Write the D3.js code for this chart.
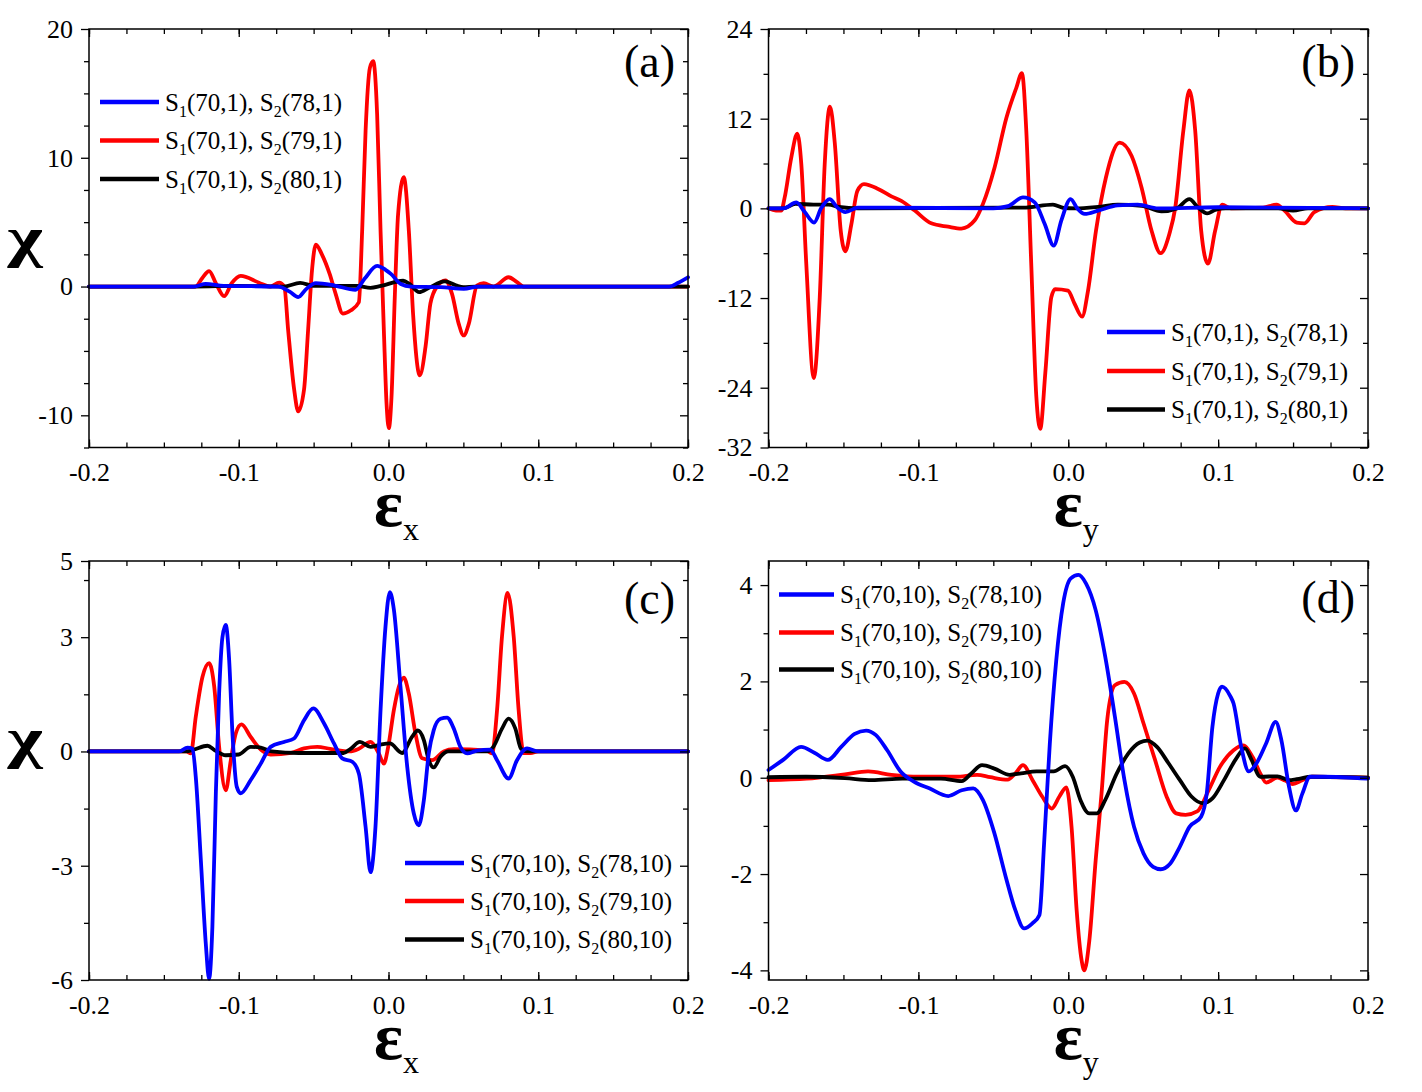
<!DOCTYPE html>
<html>
<head>
<meta charset="utf-8">
<script src="https://cdn.jsdelivr.net/npm/d3@7/dist/d3.min.js"></script>
<style>
  body { margin: 0; background: #fff; }
  svg { display: block; }
</style>
</head>
<body>
<div class="chart"></div>
<script>
const WIDTH = 1422;
const HEIGHT = 1092;

// ---- data: [epsilon, chi] ----
var aBlue = [[-0.2,0],[-0.13,0],[-0.122,0.2],[-0.11,0.05],[-0.0735,0],[-0.066,-0.4],[-0.0603,-0.82],[-0.055,-0.2],[-0.0485,0.26],[-0.036,0.08],[-0.0221,-0.26],[-0.016,0.6],[-0.0076,1.6],[-0.002,1.3],[0.0016,0.98],[0.0082,0.2],[0.015,0],[0.035,-0.05],[0.0503,-0.18],[0.06,0],[0.1875,0],[0.1935,0.3],[0.2,0.72]];
var aRed = [[-0.2,0],[-0.13,0],[-0.1289,0],[-0.1243,0.67],[-0.1198,1.2],[-0.1153,0.26],[-0.1098,-0.75],[-0.1047,0.26],[-0.0987,0.83],[-0.0865,0.3],[-0.079,0],[-0.073,0.3],[-0.0696,0],[-0.067,-3.4],[-0.063,-8.0],[-0.0603,-9.7],[-0.0564,-8.0],[-0.0537,-3.4],[-0.0511,1.24],[-0.0485,3.26],[-0.0445,2.5],[-0.0393,0.98],[-0.0353,-0.57],[-0.0305,-2.1],[-0.0253,-1.86],[-0.0198,-1.22],[-0.0176,4.3],[-0.0153,12.1],[-0.0124,17.0],[-0.0102,17.5],[-0.0076,13.4],[-0.0053,4.3],[-0.0031,-3.4],[-0.0013,-9.1],[0.0002,-11.0],[0.002,-8.6],[0.0042,-0.8],[0.0064,5.6],[0.0102,8.5],[0.0136,4.3],[0.0164,-2.1],[0.0209,-6.9],[0.0247,-4.7],[0.028,-1.3],[0.0324,0],[0.038,0.47],[0.0424,-0.57],[0.0469,-2.9],[0.0502,-3.8],[0.0536,-2.9],[0.0591,0.08],[0.0636,0.26],[0.0702,0],[0.0802,0.72],[0.0858,0.34],[0.0902,0],[0.2,0]];
var aBlack = [[-0.2,0],[-0.13,0],[-0.1,0.05],[-0.07,0],[-0.059,0.28],[-0.05,0.05],[-0.021,0.05],[-0.012,-0.1],[-0.005,0.05],[0.0098,0.45],[0.014,0.2],[0.0205,-0.44],[0.027,-0.1],[0.0376,0.4],[0.045,0.1],[0.05,-0.05],[0.058,0],[0.2,0]];

var bBlue = [[-0.2,0],[-0.19,0],[-0.1814,0.8],[-0.1758,-0.5],[-0.1696,-1.9],[-0.1649,0],[-0.1592,1.24],[-0.154,0.1],[-0.1487,-0.5],[-0.1404,0.1],[-0.12,0.1],[-0.05,0],[-0.0402,0.3],[-0.0302,1.46],[-0.0224,0.8],[-0.0157,-2.1],[-0.0097,-5.0],[-0.0046,-1.6],[0.0016,1.24],[0.006,0],[0.011,-0.75],[0.02,-0.3],[0.033,0.4],[0.0463,0.5],[0.06,0],[0.1,0.15],[0.2,0]];
var bRed = [[-0.2,0],[-0.195,-0.3],[-0.1915,-0.3],[-0.1892,1.46],[-0.1848,6.8],[-0.1808,10.0],[-0.1781,5.9],[-0.1748,-7.4],[-0.1698,-22.7],[-0.1658,-11.9],[-0.1625,5.9],[-0.159,13.6],[-0.1558,8.8],[-0.1518,-3.0],[-0.1487,-5.75],[-0.1447,-2.1],[-0.1407,2.35],[-0.1363,3.24],[-0.1269,2.6],[-0.118,1.6],[-0.1114,1.0],[-0.1024,-0.3],[-0.0914,-2.0],[-0.0802,-2.45],[-0.0713,-2.7],[-0.0624,-1.6],[-0.0569,0.6],[-0.0491,5.5],[-0.0413,12.1],[-0.0347,16.1],[-0.0309,18.1],[-0.028,10.4],[-0.0247,-7.4],[-0.0213,-25.2],[-0.0187,-29.5],[-0.0153,-22.0],[-0.0113,-11.9],[-0.0087,-10.8],[-0.0002,-11.0],[0.0043,-12.8],[0.0092,-14.5],[0.0132,-11.0],[0.0185,-3.0],[0.0251,4.1],[0.0343,8.8],[0.0423,7.0],[0.0489,2.8],[0.0556,-3.0],[0.0616,-6.0],[0.0675,-3.4],[0.0714,0.1],[0.0768,10.4],[0.0808,15.8],[0.0847,10.4],[0.0887,-3.0],[0.0932,-7.4],[0.098,-3.0],[0.1027,0.48],[0.1086,0],[0.13,0.1],[0.139,0.5],[0.1443,-0.3],[0.1524,-1.9],[0.1576,-2.0],[0.1642,-0.5],[0.1762,0.2],[0.185,0],[0.2,0]];
var bBlack = [[-0.2,0],[-0.19,0],[-0.182,0.6],[-0.17,0.5],[-0.16,0.5],[-0.153,0.2],[-0.14,0],[-0.04,0.1],[-0.03,0.1],[-0.0102,0.5],[-0.003,0.05],[0.005,0],[0.02,0.2],[0.033,0.5],[0.049,0.35],[0.0622,-0.4],[0.0725,0],[0.0808,1.24],[0.0867,0.1],[0.0927,-0.67],[0.098,-0.2],[0.105,0],[0.14,0],[0.15,-0.3],[0.16,0],[0.2,0]];

var cBlue = [[-0.2,0],[-0.14,0],[-0.1342,0.1],[-0.1309,0.07],[-0.1287,-0.67],[-0.1253,-2.86],[-0.122,-5.05],[-0.1198,-5.97],[-0.1176,-4.6],[-0.1153,-1.1],[-0.1131,1.53],[-0.1109,3.0],[-0.1087,3.32],[-0.1064,2.4],[-0.1042,0.47],[-0.1013,-0.93],[-0.0987,-1.1],[-0.092,-0.75],[-0.0853,-0.32],[-0.0787,0.12],[-0.0698,0.25],[-0.0631,0.34],[-0.0564,0.82],[-0.0502,1.13],[-0.0431,0.74],[-0.0364,0.21],[-0.0309,-0.18],[-0.0242,-0.27],[-0.0198,-0.58],[-0.0153,-1.98],[-0.012,-3.17],[-0.0087,-1.98],[-0.0053,1.09],[-0.002,3.28],[0.0009,4.18],[0.0036,3.72],[0.008,1.7],[0.0125,-0.4],[0.0169,-1.63],[0.0202,-1.94],[0.0236,-1.28],[0.0269,-0.05],[0.0302,0.56],[0.0347,0.86],[0.0391,0.89],[0.0436,0.6],[0.048,0.12],[0.0525,-0.05],[0.059,0.02],[0.068,0.05],[0.0725,-0.23],[0.0802,-0.71],[0.0858,-0.23],[0.0925,0.08],[0.1,0],[0.2,0]];
var cRed = [[-0.2,0],[-0.135,0],[-0.132,-0.05],[-0.1287,0.91],[-0.1242,1.96],[-0.1198,2.32],[-0.1164,1.71],[-0.1131,0.12],[-0.1087,-1.02],[-0.1053,-0.23],[-0.102,0.47],[-0.0982,0.71],[-0.092,0.38],[-0.0853,0.05],[-0.0787,-0.08],[-0.065,-0.04],[-0.0564,0.08],[-0.0476,0.12],[-0.039,0.07],[-0.026,0],[-0.0198,0.07],[-0.012,0.25],[-0.0065,-0.05],[-0.0031,-0.32],[-0.0002,0.12],[0.0036,1.09],[0.0069,1.7],[0.0102,1.94],[0.0135,1.53],[0.018,0.47],[0.0225,-0.18],[0.0291,-0.23],[0.0369,0],[0.0436,0.06],[0.065,0.03],[0.0691,-0.05],[0.0725,1.09],[0.0758,3.02],[0.0796,4.16],[0.0836,3.02],[0.0869,1.09],[0.0902,-0.04],[0.095,-0.04],[0.1,0],[0.2,0]];
var cBlack = [[-0.2,0],[-0.135,0],[-0.13,0.05],[-0.1209,0.15],[-0.116,0.03],[-0.1087,-0.1],[-0.1,-0.08],[-0.092,0.12],[-0.0853,0.1],[-0.078,0],[-0.06,-0.04],[-0.03,-0.04],[-0.0253,0.07],[-0.0191,0.25],[-0.012,0.12],[-0.0053,0.18],[0.0009,0.21],[0.0091,-0.04],[0.0158,0.39],[0.0196,0.55],[0.0236,0.3],[0.0269,-0.23],[0.0302,-0.42],[0.0347,-0.14],[0.04,0],[0.066,0],[0.07,0.12],[0.0758,0.6],[0.0802,0.86],[0.0847,0.6],[0.0885,0.07],[0.093,0],[0.2,0]];

var dBlue = [[-0.2,0.16],[-0.1898,0.38],[-0.1783,0.64],[-0.1694,0.52],[-0.1604,0.37],[-0.1515,0.64],[-0.1425,0.91],[-0.1349,0.98],[-0.1285,0.89],[-0.1208,0.57],[-0.1119,0.13],[-0.103,-0.08],[-0.0927,-0.22],[-0.08,-0.38],[-0.0711,-0.26],[-0.0634,-0.22],[-0.057,-0.46],[-0.0493,-1.15],[-0.0417,-2.06],[-0.0353,-2.75],[-0.0294,-3.13],[-0.0238,-3.02],[-0.0192,-2.85],[-0.0161,-1.36],[-0.0123,0.71],[-0.008,2.44],[-0.0034,3.62],[0.0017,4.14],[0.0068,4.21],[0.0119,4.03],[0.0183,3.48],[0.0247,2.51],[0.0311,1.27],[0.0375,-0.05],[0.0439,-1.02],[0.0502,-1.57],[0.0566,-1.85],[0.0617,-1.9],[0.0681,-1.78],[0.0745,-1.43],[0.0809,-1.02],[0.0886,-0.81],[0.0924,-0.33],[0.0962,1.06],[0.1,1.75],[0.1026,1.89],[0.108,1.7],[0.1103,1.54],[0.1154,0.64],[0.1205,0.13],[0.1256,0.3],[0.132,0.71],[0.1384,1.16],[0.1422,0.78],[0.1473,-0.19],[0.1519,-0.68],[0.1562,-0.33],[0.1613,0.02],[0.1703,0.02],[0.2,-0.02]];
var dRed = [[-0.2,-0.05],[-0.1745,-0.02],[-0.149,0.07],[-0.1336,0.13],[-0.118,0.06],[-0.1,0.02],[-0.075,0.02],[-0.0608,0.06],[-0.052,0.01],[-0.0404,-0.04],[-0.0353,0.09],[-0.0302,0.26],[-0.0238,-0.05],[-0.0174,-0.39],[-0.011,-0.64],[-0.0059,-0.39],[-0.0013,-0.2],[0.0022,-1.02],[0.0056,-2.75],[0.0089,-3.79],[0.0107,-4.0],[0.014,-3.4],[0.0183,-1.71],[0.0222,-0.33],[0.026,1.2],[0.0311,1.92],[0.0375,1.99],[0.0439,1.75],[0.0502,1.13],[0.0579,0.37],[0.0656,-0.39],[0.072,-0.74],[0.0783,-0.77],[0.086,-0.7],[0.0937,-0.26],[0.1013,0.23],[0.1103,0.57],[0.1167,0.67],[0.123,0.43],[0.1281,0.09],[0.132,-0.1],[0.1396,0],[0.1447,-0.06],[0.1498,-0.13],[0.1562,-0.05],[0.1626,0.02],[0.2,0]];
var dBlack = [[-0.2,0.01],[-0.175,0.02],[-0.149,-0.01],[-0.131,-0.05],[-0.1106,-0.02],[-0.085,-0.02],[-0.0711,-0.07],[-0.0647,0.09],[-0.0575,0.26],[-0.0493,0.19],[-0.0391,0.06],[-0.0315,0.09],[-0.0212,0.13],[-0.0097,0.13],[-0.0021,0.24],[0.003,0.02],[0.0081,-0.46],[0.014,-0.74],[0.0191,-0.74],[0.0247,-0.46],[0.0324,0.09],[0.04,0.5],[0.0477,0.73],[0.0528,0.77],[0.0592,0.64],[0.0669,0.3],[0.0745,-0.05],[0.0822,-0.39],[0.0898,-0.53],[0.0962,-0.43],[0.1039,-0.05],[0.1115,0.37],[0.1179,0.61],[0.1223,0.37],[0.1281,0.02],[0.1396,0.03],[0.1473,-0.05],[0.1524,-0.03],[0.1626,0.02],[0.2,0]];

// ---- ticks and labels ----
var xTicks = [-0.2, -0.1, 0, 0.1, 0.2];
var xMinorTicks = d3.range(-8, 9).map(function (i) { return i * 0.025; });
var aYTicks = [20, 10, 0, -10];
var aYMinor = [17.5, 15, 12.5, 7.5, 5, 2.5, -2.5, -5, -7.5, -12.5];
var bYTicks = [24, 12, 0, -12, -24, -32];
var bYMinor = [18, 6, -6, -18, -30];
var cYTicks = [5, 3, 0, -3, -6];
var cYMinor = [4.5, 1.5, -1.5, -4.5];
var dYTicks = [4, 2, 0, -2, -4];
var dYMinor = [3, 1, -1, -3];

var legendTop = [['70,1', '78,1'], ['70,1', '79,1'], ['70,1', '80,1']];
var legendBottom = [['70,10', '78,10'], ['70,10', '79,10'], ['70,10', '80,10']];
var legendColors = ['#0000ff', '#ff0000', '#000000'];

const FONT = '"Liberation Serif", "Times New Roman", serif';

var panels = [
    { tag: '(a)', left: 89, top: 29, right: 688, bottom: 447.5, yDomain: [-12.5, 20],
      yTicks: aYTicks, yMinor: aYMinor, series: [aRed, aBlack, aBlue], legend: legendTop,
      leg: { x1: 100, x2: 159, tx: 165, ty: [102, 140.5, 179] }, sub: 'x', chiY: 256, tagY: 77 },
    { tag: '(b)', left: 768.5, top: 29, right: 1368, bottom: 447.5, yDomain: [-32, 24],
      yTicks: bYTicks, yMinor: bYMinor, series: [bRed, bBlack, bBlue], legend: legendTop,
      leg: { x1: 1107, x2: 1165, tx: 1171, ty: [332, 371, 409.5] }, sub: 'y', chiY: null, tagY: 77 },
    { tag: '(c)', left: 89, top: 561, right: 688, bottom: 980, yDomain: [-6, 5],
      yTicks: cYTicks, yMinor: cYMinor, series: [cRed, cBlack, cBlue], legend: legendBottom,
      leg: { x1: 405, x2: 464, tx: 470, ty: [863, 901, 939.5] }, sub: 'x', chiY: 757, tagY: 614 },
    { tag: '(d)', left: 768.5, top: 561, right: 1368, bottom: 980, yDomain: [-4.2, 4.5],
      yTicks: dYTicks, yMinor: dYMinor, series: [dRed, dBlack, dBlue], legend: legendBottom,
      leg: { x1: 779, x2: 834, tx: 840, ty: [594.5, 632.5, 669.5] }, sub: 'y', chiY: null, tagY: 613 }
];
var seriesColors = ['#ff0000', '#000000', '#0000ff'];

var svg = d3.select('.chart').append('svg')
    .attr('width', WIDTH)
    .attr('height', HEIGHT)
    .style('font-family', FONT);

// strip the d3 defaults; labelled axes keep their text in the serif face
function styleAxis(g, labelled) {
    g.select('.domain').remove();
    g.selectAll('line').attr('stroke', '#000').attr('stroke-width', 1.3);
    if (labelled) {
        g.selectAll('text')
            .style('font-family', FONT)
            .style('font-size', '26px')
            .attr('fill', '#000');
    } else {
        g.selectAll('text').remove();
    }
}

function tickAxis(g, axis, transform, labelled) {
    g.append('g').attr('transform', transform).call(axis).call(styleAxis, labelled);
}

function drawAxes(g, p, x, y) {
    var fmtY = function (d) { return String(d); };
    var fmtX = function (d) { return d.toFixed(1); };
    var atLeft = 'translate(' + p.left + ',0)';
    var atRight = 'translate(' + p.right + ',0)';
    var atBottom = 'translate(0,' + p.bottom + ')';
    var atTop = 'translate(0,' + p.top + ')';

    // left: outward ticks with labels
    tickAxis(g, d3.axisLeft(y).tickValues(p.yTicks).tickSize(8).tickPadding(8).tickFormat(fmtY), atLeft, true);
    tickAxis(g, d3.axisLeft(y).tickValues(p.yMinor).tickSize(5), atLeft, false);
    // right: inward ticks
    tickAxis(g, d3.axisRight(y).tickValues(p.yTicks).tickSize(-8), atRight, false);
    tickAxis(g, d3.axisRight(y).tickValues(p.yMinor).tickSize(-5), atRight, false);
    // bottom: inward ticks with labels
    tickAxis(g, d3.axisBottom(x).tickValues(xTicks).tickSize(-8).tickPadding(15.5).tickFormat(fmtX), atBottom, true);
    tickAxis(g, d3.axisBottom(x).tickValues(xMinorTicks).tickSize(-5), atBottom, false);
    // top: inward ticks
    tickAxis(g, d3.axisTop(x).tickValues(xTicks).tickSize(-8), atTop, false);
    tickAxis(g, d3.axisTop(x).tickValues(xMinorTicks).tickSize(-5), atTop, false);

    g.append('rect')
        .attr('x', p.left).attr('y', p.top)
        .attr('width', p.right - p.left).attr('height', p.bottom - p.top)
        .attr('fill', 'none').attr('stroke', '#000').attr('stroke-width', 1.5);
}

function drawLines(g, p, x, y) {
    var line = d3.line()
        .x(function (d) { return x(d[0]); })
        .y(function (d) { return y(d[1]); })
        .curve(d3.curveMonotoneX);
    p.series.forEach(function (s, i) {
        g.append('path')
            .attr('d', line(s))
            .attr('fill', 'none')
            .attr('stroke', seriesColors[i])
            .attr('stroke-width', 3.8)
            .attr('stroke-linejoin', 'round')
            .attr('stroke-linecap', 'round');
    });
}

function drawLegend(g, p) {
    p.legend.forEach(function (item, i) {
        var ly = p.leg.ty[i];
        g.append('line')
            .attr('x1', p.leg.x1).attr('x2', p.leg.x2)
            .attr('y1', ly).attr('y2', ly)
            .attr('stroke', legendColors[i]).attr('stroke-width', 4.5);
        var t = g.append('text')
            .attr('x', p.leg.tx).attr('y', ly + 8.5)
            .attr('font-size', 25).attr('fill', '#000');
        t.append('tspan').text('S');
        t.append('tspan').attr('font-size', 16).attr('dy', 6).text('1');
        t.append('tspan').attr('dy', -6).text('(' + item[0] + '), S');
        t.append('tspan').attr('font-size', 16).attr('dy', 6).text('2');
        t.append('tspan').attr('dy', -6).text('(' + item[1] + ')');
    });
}

function drawTitles(g, p) {
    var cx = (p.left + p.right) / 2 + 8;
    var t = g.append('text')
        .attr('x', cx).attr('y', p.bottom + 78.5)
        .attr('text-anchor', 'middle').attr('fill', '#000');
    t.append('tspan').attr('font-size', 68).attr('font-weight', 'bold').text('\u03b5');
    t.append('tspan').attr('font-size', 32).attr('dy', 14).text(p.sub);

    if (p.chiY !== null) {
        // the chi in the figure is wide and heavy, so stretch it a little
        g.append('text')
            .attr('transform', 'translate(25,' + p.chiY + ') scale(1.35,1)')
            .attr('text-anchor', 'middle')
            .attr('font-size', 56).attr('font-weight', 'bold').attr('fill', '#000')
            .text('\u03c7');
    }

    g.append('text')
        .attr('x', p.right - 13).attr('y', p.tagY)
        .attr('text-anchor', 'end')
        .attr('font-size', 46).attr('fill', '#000')
        .text(p.tag);
}

panels.forEach(function (p) {
    var g = svg.append('g');
    var x = d3.scaleLinear().domain([-0.2, 0.2]).range([p.left, p.right]);
    var y = d3.scaleLinear().domain(p.yDomain).range([p.bottom, p.top]);
    drawLines(g, p, x, y);
    drawAxes(g, p, x, y);
    drawLegend(g, p);
    drawTitles(g, p);
});
</script>
</body>
</html>
